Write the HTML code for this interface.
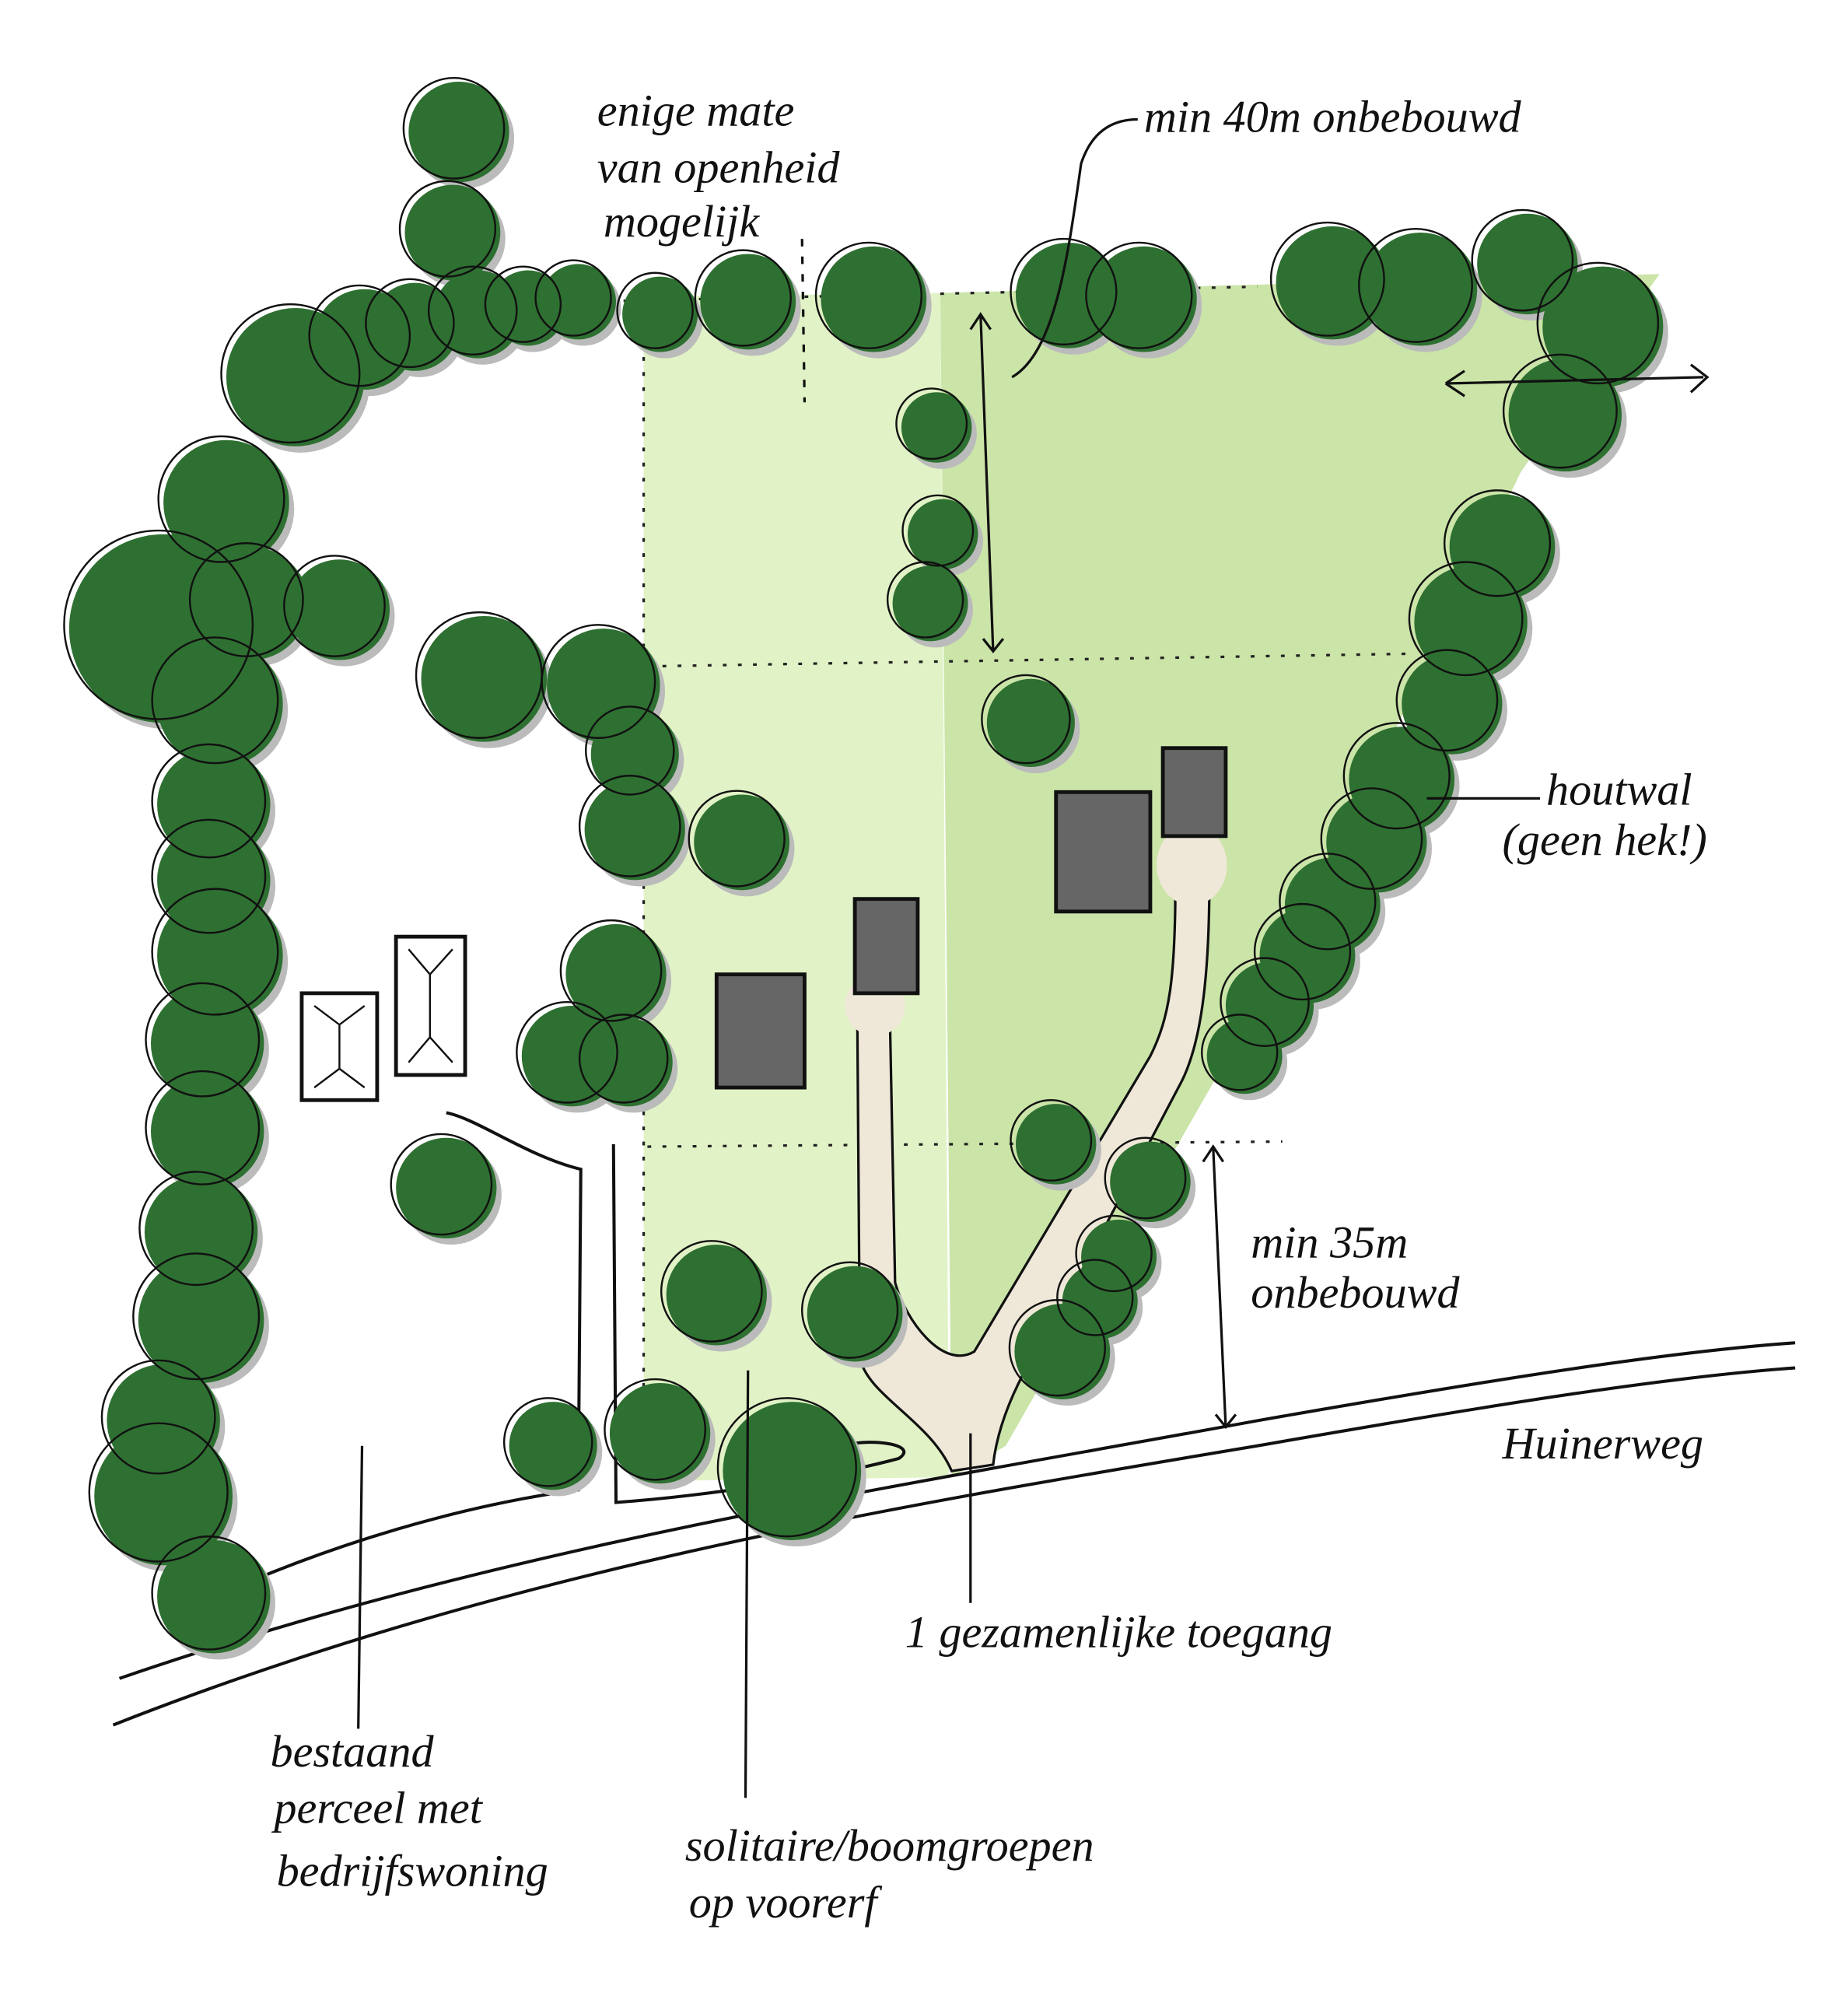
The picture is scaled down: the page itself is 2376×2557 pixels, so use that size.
<!DOCTYPE html>
<html><head><meta charset="utf-8"><style>
html,body{margin:0;padding:0;background:#fff}
svg{display:block}
text{font-family:"Liberation Serif",serif;font-style:italic;fill:#111}
</style></head><body>
<svg width="2376" height="2557" viewBox="0 0 1470 1582" xmlns="http://www.w3.org/2000/svg">
<rect width="1470" height="1582" fill="#fff"/>
<polygon points="512,236 748,233 755,1175 512,1178" fill="#e1f3c6"/>
<polygon points="748,233 1320,218 1210,375 1110,580 1000,800 800,1150 757,1175" fill="#cbe4a8"/>
<g stroke="#222" stroke-width="2" stroke-dasharray="3,9" fill="none">
<line x1="515" y1="530" x2="1120" y2="520"/>
<line x1="515" y1="912" x2="1020" y2="908"/>
<line x1="460" y1="240" x2="1000" y2="228"/>
<line x1="512" y1="260" x2="512" y2="1170"/>
</g>
<g stroke="#111" stroke-width="2.5" fill="none">
<path d="M95,1335 C400,1230 700,1185 1000,1130 C1200,1095 1330,1075 1428,1068"/>
<path d="M90,1372 C400,1250 700,1200 1000,1150 C1200,1115 1330,1095 1428,1088"/>
<path d="M160,1275 C300,1210 420,1190 460,1185 L462,930 C420,920 380,890 355,885"/>
<path d="M488,910 L490,1195 C560,1190 660,1175 715,1160 C730,1150 700,1145 680,1148"/>
</g>
<g fill="#efe8d8" stroke="#111" stroke-width="2">
<path d="M682,815 L684,1080 C690,1110 740,1130 757,1170 L790,1165 C795,1120 820,1080 845,1040 L940,860 C955,830 962,780 962,700 L935,700 C935,780 930,810 915,840 L775,1075 C750,1090 720,1050 712,1020 L708,815 Z"/>
</g>
<circle cx="696" cy="800" r="24" fill="#efe8d8"/>
<ellipse cx="948" cy="688" rx="28" ry="32" fill="#efe8d8"/>

<g fill="#bbbbbb" transform="translate(4,5)">
<circle cx="365" cy="105" r="40"/><circle cx="360" cy="185" r="38"/>
<circle cx="235" cy="300" r="55"/><circle cx="290" cy="270" r="40"/><circle cx="330" cy="260" r="35"/><circle cx="380" cy="250" r="35"/><circle cx="420" cy="245" r="30"/><circle cx="460" cy="240" r="30"/><circle cx="525" cy="250" r="30"/><circle cx="595" cy="240" r="38"/><circle cx="695" cy="238" r="42"/><circle cx="850" cy="235" r="42"/><circle cx="910" cy="238" r="42"/><circle cx="1060" cy="225" r="45"/><circle cx="1130" cy="230" r="45"/><circle cx="1215" cy="210" r="40"/><circle cx="1275" cy="260" r="48"/><circle cx="1245" cy="330" r="45"/>
<circle cx="180" cy="400" r="50"/><circle cx="130" cy="500" r="75"/><circle cx="175" cy="560" r="50"/><circle cx="170" cy="640" r="45"/><circle cx="170" cy="700" r="45"/><circle cx="175" cy="760" r="50"/><circle cx="165" cy="830" r="45"/><circle cx="165" cy="900" r="45"/><circle cx="160" cy="980" r="45"/><circle cx="160" cy="1050" r="50"/><circle cx="130" cy="1130" r="45"/><circle cx="130" cy="1190" r="55"/><circle cx="170" cy="1270" r="45"/>
<circle cx="200" cy="480" r="45"/><circle cx="270" cy="485" r="40"/><circle cx="385" cy="540" r="50"/><circle cx="480" cy="545" r="45"/><circle cx="505" cy="600" r="35"/><circle cx="505" cy="660" r="40"/><circle cx="590" cy="670" r="38"/><circle cx="490" cy="775" r="40"/><circle cx="455" cy="840" r="40"/><circle cx="500" cy="845" r="35"/><circle cx="355" cy="945" r="40"/><circle cx="570" cy="1030" r="40"/><circle cx="680" cy="1045" r="38"/><circle cx="440" cy="1150" r="35"/><circle cx="525" cy="1140" r="40"/><circle cx="630" cy="1170" r="55"/>
<circle cx="745" cy="340" r="28"/><circle cx="750" cy="425" r="28"/><circle cx="740" cy="480" r="30"/><circle cx="820" cy="575" r="35"/><circle cx="840" cy="910" r="32"/><circle cx="915" cy="940" r="32"/><circle cx="890" cy="1000" r="30"/><circle cx="875" cy="1035" r="30"/><circle cx="845" cy="1075" r="38"/>
<circle cx="1195" cy="435" r="42"/><circle cx="1170" cy="495" r="45"/><circle cx="1155" cy="560" r="40"/><circle cx="1115" cy="620" r="42"/><circle cx="1095" cy="670" r="40"/><circle cx="1060" cy="720" r="38"/><circle cx="1040" cy="760" r="38"/><circle cx="1010" cy="800" r="35"/><circle cx="990" cy="840" r="30"/>
</g>
<g fill="#2e7031">
<circle cx="365" cy="105" r="40"/><circle cx="360" cy="185" r="38"/>
<circle cx="235" cy="300" r="55"/><circle cx="290" cy="270" r="40"/><circle cx="330" cy="260" r="35"/><circle cx="380" cy="250" r="35"/><circle cx="420" cy="245" r="30"/><circle cx="460" cy="240" r="30"/><circle cx="525" cy="250" r="30"/><circle cx="595" cy="240" r="38"/><circle cx="695" cy="238" r="42"/><circle cx="850" cy="235" r="42"/><circle cx="910" cy="238" r="42"/><circle cx="1060" cy="225" r="45"/><circle cx="1130" cy="230" r="45"/><circle cx="1215" cy="210" r="40"/><circle cx="1275" cy="260" r="48"/><circle cx="1245" cy="330" r="45"/>
<circle cx="180" cy="400" r="50"/><circle cx="130" cy="500" r="75"/><circle cx="175" cy="560" r="50"/><circle cx="170" cy="640" r="45"/><circle cx="170" cy="700" r="45"/><circle cx="175" cy="760" r="50"/><circle cx="165" cy="830" r="45"/><circle cx="165" cy="900" r="45"/><circle cx="160" cy="980" r="45"/><circle cx="160" cy="1050" r="50"/><circle cx="130" cy="1130" r="45"/><circle cx="130" cy="1190" r="55"/><circle cx="170" cy="1270" r="45"/>
<circle cx="200" cy="480" r="45"/><circle cx="270" cy="485" r="40"/><circle cx="385" cy="540" r="50"/><circle cx="480" cy="545" r="45"/><circle cx="505" cy="600" r="35"/><circle cx="505" cy="660" r="40"/><circle cx="590" cy="670" r="38"/><circle cx="490" cy="775" r="40"/><circle cx="455" cy="840" r="40"/><circle cx="500" cy="845" r="35"/><circle cx="355" cy="945" r="40"/><circle cx="570" cy="1030" r="40"/><circle cx="680" cy="1045" r="38"/><circle cx="440" cy="1150" r="35"/><circle cx="525" cy="1140" r="40"/><circle cx="630" cy="1170" r="55"/>
<circle cx="745" cy="340" r="28"/><circle cx="750" cy="425" r="28"/><circle cx="740" cy="480" r="30"/><circle cx="820" cy="575" r="35"/><circle cx="840" cy="910" r="32"/><circle cx="915" cy="940" r="32"/><circle cx="890" cy="1000" r="30"/><circle cx="875" cy="1035" r="30"/><circle cx="845" cy="1075" r="38"/>
<circle cx="1195" cy="435" r="42"/><circle cx="1170" cy="495" r="45"/><circle cx="1155" cy="560" r="40"/><circle cx="1115" cy="620" r="42"/><circle cx="1095" cy="670" r="40"/><circle cx="1060" cy="720" r="38"/><circle cx="1040" cy="760" r="38"/><circle cx="1010" cy="800" r="35"/><circle cx="990" cy="840" r="30"/>
</g>
<g fill="none" stroke="#111" stroke-width="1.5" transform="translate(-4,-3)">
<circle cx="365" cy="105" r="40"/><circle cx="360" cy="185" r="38"/>
<circle cx="235" cy="300" r="55"/><circle cx="290" cy="270" r="40"/><circle cx="330" cy="260" r="35"/><circle cx="380" cy="250" r="35"/><circle cx="420" cy="245" r="30"/><circle cx="460" cy="240" r="30"/><circle cx="525" cy="250" r="30"/><circle cx="595" cy="240" r="38"/><circle cx="695" cy="238" r="42"/><circle cx="850" cy="235" r="42"/><circle cx="910" cy="238" r="42"/><circle cx="1060" cy="225" r="45"/><circle cx="1130" cy="230" r="45"/><circle cx="1215" cy="210" r="40"/><circle cx="1275" cy="260" r="48"/><circle cx="1245" cy="330" r="45"/>
<circle cx="180" cy="400" r="50"/><circle cx="130" cy="500" r="75"/><circle cx="175" cy="560" r="50"/><circle cx="170" cy="640" r="45"/><circle cx="170" cy="700" r="45"/><circle cx="175" cy="760" r="50"/><circle cx="165" cy="830" r="45"/><circle cx="165" cy="900" r="45"/><circle cx="160" cy="980" r="45"/><circle cx="160" cy="1050" r="50"/><circle cx="130" cy="1130" r="45"/><circle cx="130" cy="1190" r="55"/><circle cx="170" cy="1270" r="45"/>
<circle cx="200" cy="480" r="45"/><circle cx="270" cy="485" r="40"/><circle cx="385" cy="540" r="50"/><circle cx="480" cy="545" r="45"/><circle cx="505" cy="600" r="35"/><circle cx="505" cy="660" r="40"/><circle cx="590" cy="670" r="38"/><circle cx="490" cy="775" r="40"/><circle cx="455" cy="840" r="40"/><circle cx="500" cy="845" r="35"/><circle cx="355" cy="945" r="40"/><circle cx="570" cy="1030" r="40"/><circle cx="680" cy="1045" r="38"/><circle cx="440" cy="1150" r="35"/><circle cx="525" cy="1140" r="40"/><circle cx="630" cy="1170" r="55"/>
<circle cx="745" cy="340" r="28"/><circle cx="750" cy="425" r="28"/><circle cx="740" cy="480" r="30"/><circle cx="820" cy="575" r="35"/><circle cx="840" cy="910" r="32"/><circle cx="915" cy="940" r="32"/><circle cx="890" cy="1000" r="30"/><circle cx="875" cy="1035" r="30"/><circle cx="845" cy="1075" r="38"/>
<circle cx="1195" cy="435" r="42"/><circle cx="1170" cy="495" r="45"/><circle cx="1155" cy="560" r="40"/><circle cx="1115" cy="620" r="42"/><circle cx="1095" cy="670" r="40"/><circle cx="1060" cy="720" r="38"/><circle cx="1040" cy="760" r="38"/><circle cx="1010" cy="800" r="35"/><circle cx="990" cy="840" r="30"/>
</g>

<g stroke="#111" stroke-width="3">
<rect x="240" y="790" width="60" height="85" fill="#fff"/>
<rect x="315" y="745" width="55" height="110" fill="#fff"/>
<rect x="570" y="775" width="70" height="90" fill="#666"/>
<rect x="680" y="715" width="50" height="75" fill="#666"/>
<rect x="840" y="630" width="75" height="95" fill="#666"/>
<rect x="925" y="595" width="50" height="70" fill="#666"/>
</g>
<g stroke="#111" stroke-width="1.5" fill="none">
<path d="M250,800 L270,815 L290,800 M270,815 L270,850 L250,865 M270,850 L290,865"/>
<path d="M325,755 L342,775 L360,755 M342,775 L342,825 L325,845 M342,825 L360,845"/>
</g>
<g stroke="#111" stroke-width="2" fill="none">
<line x1="780" y1="250" x2="790" y2="518"/><path d="M772,262 L780,250 L788,262 M782,508 L790,518 L798,508"/>
<line x1="965" y1="912" x2="975" y2="1135"/><path d="M957,924 L965,912 L973,924 M967,1125 L975,1135 L983,1125"/>
<path d="M1150,305 L1165,295 M1150,305 L1165,315 M1150,305 L1355,300 M1345,290 L1358,300 L1345,312"/>
<line x1="638" y1="190" x2="640" y2="320" stroke-dasharray="6,8"/>
<path d="M805,300 C840,280 850,200 860,130 C870,100 890,95 905,95"/>
<line x1="1135" y1="635" x2="1225" y2="635"/>
<line x1="288" y1="1150" x2="285" y2="1375"/>
<line x1="595" y1="1090" x2="593" y2="1430"/>
<line x1="772" y1="1140" x2="772" y2="1275"/>
</g>
<g font-size="36">
<text x="475" y="100">enige mate</text>
<text x="475" y="145">van openheid</text>
<text x="480" y="188">mogelijk</text>
<text x="910" y="105">min 40m onbebouwd</text>
<text x="1230" y="640">houtwal</text>
<text x="1195" y="680">(geen hek!)</text>
<text x="995" y="1000">min 35m</text>
<text x="995" y="1040">onbebouwd</text>
<text x="1195" y="1160">Huinerweg</text>
<text x="720" y="1310">1 gezamenlijke toegang</text>
<text x="215" y="1405">bestaand</text>
<text x="218" y="1450">perceel met</text>
<text x="220" y="1500">bedrijfswoning</text>
<text x="545" y="1480">solitaire/boomgroepen</text>
<text x="548" y="1525">op voorerf</text>
</g>
</svg>
</body></html>
